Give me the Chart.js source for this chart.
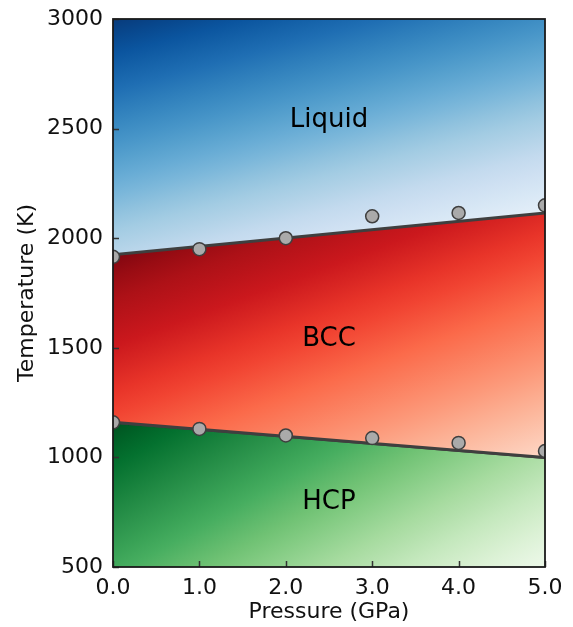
<!DOCTYPE html>
<html>
<head>
<meta charset="utf-8">
<script src="https://cdn.jsdelivr.net/npm/chart.js@4/dist/chart.umd.min.js"></script>
<style>
  html, body { margin: 0; padding: 0; background: #fff; }
  #wrap { width: 573px; height: 627px; }
</style>
</head>
<body>
<div id="wrap"><canvas id="phase"></canvas></div>
<script>
// measured points
const pressure = [0, 1, 2, 3, 4, 5];
const meltPoints = [1915, 1950, 2000, 2100, 2115, 2150];
const bccHcpPoints = [1160, 1130, 1100, 1088, 1066, 1029];

// fitted phase boundaries
const boundaryP = [0, 5];
const meltLine = [1925, 2115];
const bccHcpLine = [1160, 1000];

// axis ticks
const xTicks = [0, 1, 2, 3, 4, 5];
const yTicks = [500, 1000, 1500, 2000, 2500, 3000];

// region labels
const regionNames = ["Liquid", "BCC", "HCP"];
const regionP = [2.5, 2.5, 2.5];
const regionT = [2540, 1540, 795];

// matplotlib sequential maps (light -> dark)
const BLUES = ["#f7fbff", "#deebf7", "#c6dbef", "#9ecae1", "#6baed6", "#4292c6", "#2171b5", "#08519c", "#08306b"];
const REDS = ["#fff5f0", "#fee0d2", "#fcbba1", "#fc9272", "#fb6a4a", "#ef3b2c", "#cb181d", "#a50f15", "#67000d"];
const GREENS = ["#f7fcf5", "#e5f5e0", "#c7e9c0", "#a1d99b", "#74c476", "#41ab5d", "#238b45", "#006d2c", "#00441b"];

function hexToRgb(h) {
  return [parseInt(h.slice(1, 3), 16), parseInt(h.slice(3, 5), 16), parseInt(h.slice(5, 7), 16)];
}

function cmapColor(cmap, v) {
  v = Math.max(0, Math.min(1, v));
  const pos = v * (cmap.length - 1);
  const i = Math.min(cmap.length - 2, Math.floor(pos));
  const f = pos - i;
  const a = hexToRgb(cmap[i]), b = hexToRgb(cmap[i + 1]);
  const c = a.map((x, k) => Math.round(x + (b[k] - x) * f));
  return `rgb(${c[0]},${c[1]},${c[2]})`;
}

// gradient anchored at the left edge at temperature tTop, getting lighter to the right / down
function regionFill(cmap, v0, tTop, dropX, dropY) {
  return (context) => {
    const chart = context.chart;
    const area = chart.chartArea;
    if (!area || !chart.scales.y) return "rgba(0,0,0,0)";
    const y0 = chart.scales.y.getPixelForValue(tTop);
    const gx = dropX / area.width, gy = dropY / area.height;
    const n = gx * gx + gy * gy;
    const grad = chart.ctx.createLinearGradient(area.left, y0, area.left + gx / n, y0 + gy / n);
    for (let i = 0; i <= 20; i++) {
      const t = i / 20;
      grad.addColorStop(t, cmapColor(cmap, v0 - t));
    }
    return grad;
  };
}

const toXY = (xs, ys) => xs.map((x, i) => ({ x: x, y: ys[i] }));

// everything inside the axes is cut at the frame, markers included
const frameAndLabels = {
  id: "frameAndLabels",
  beforeDatasetsDraw(chart) {
    const { ctx, chartArea: a } = chart;
    ctx.save();
    ctx.beginPath();
    ctx.rect(a.left, a.top, a.right - a.left, a.bottom - a.top);
    ctx.clip();
  },
  afterDatasetsDraw(chart) {
    const { ctx, chartArea: a, scales } = chart;
    ctx.restore();
    ctx.save();
    // blank the thin strips beside the frame where half markers would stick out
    ctx.fillStyle = "#fff";
    ctx.fillRect(a.left - 9, a.top - 2, 9, a.bottom - a.top + 4);
    ctx.fillRect(a.right, a.top - 2, 10, a.bottom - a.top - 20);
    // region names
    ctx.fillStyle = "#000";
    ctx.font = "26px 'DejaVu Sans'";
    ctx.textAlign = "center";
    ctx.textBaseline = "middle";
    regionNames.forEach((name, i) => {
      ctx.fillText(name, scales.x.getPixelForValue(regionP[i]), scales.y.getPixelForValue(regionT[i]));
    });
    // inward ticks
    ctx.strokeStyle = "#333";
    ctx.lineWidth = 1.5;
    ctx.beginPath();
    yTicks.forEach(v => {
      const y = Math.round(scales.y.getPixelForValue(v)) + 0.5;
      ctx.moveTo(a.left, y); ctx.lineTo(a.left + 6, y);
    });
    xTicks.forEach(v => {
      const x = Math.round(scales.x.getPixelForValue(v)) + 0.5;
      ctx.moveTo(x, a.bottom); ctx.lineTo(x, a.bottom - 6);
    });
    ctx.stroke();
    // axes box
    ctx.strokeStyle = "#1a1a1a";
    ctx.lineWidth = 1.8;
    ctx.strokeRect(a.left, a.top, a.right - a.left, a.bottom - a.top);
    ctx.restore();
  }
};

const lineColor = "#3f3f3f";
const axisFont = { family: "'DejaVu Sans'", size: 22 };

new Chart(document.getElementById("phase"), {
  type: "line",
  data: {
    datasets: [
      {
        data: toXY(boundaryP, meltLine),
        borderColor: lineColor, borderWidth: 3, pointRadius: 0,
        fill: "end",
        backgroundColor: regionFill(BLUES, 0.96, 3000, 0.32, 1.55),
        order: 2
      },
      {
        data: toXY(boundaryP, bccHcpLine),
        borderColor: lineColor, borderWidth: 3, pointRadius: 0,
        fill: "-1",
        backgroundColor: regionFill(REDS, 0.95, meltLine[0], 0.35, 1.2),
        order: 2
      },
      {
        data: toXY(boundaryP, bccHcpLine),
        borderColor: lineColor, borderWidth: 3, pointRadius: 0,
        fill: "start",
        backgroundColor: regionFill(GREENS, 0.96, bccHcpLine[0], 0.55, 1.25),
        order: 3
      },
      {
        data: toXY(pressure, meltPoints),
        showLine: false, pointRadius: 6.5, pointBackgroundColor: "#aaaaaa",
        pointBorderColor: lineColor, pointBorderWidth: 1.5, clip: 0, order: 0
      },
      {
        data: toXY(pressure, bccHcpPoints),
        showLine: false, pointRadius: 6.5, pointBackgroundColor: "#aaaaaa",
        pointBorderColor: lineColor, pointBorderWidth: 1.5, clip: 0, order: 0
      }
    ]
  },
  plugins: [frameAndLabels],
  options: {
    responsive: true,
    maintainAspectRatio: false,
    animation: false,
    layout: { padding: { left: 0, right: 28, top: 19, bottom: 0 } },
    plugins: { legend: { display: false }, tooltip: { enabled: false } },
    scales: {
      x: {
        type: "linear", min: 0, max: 5,
        afterBuildTicks: (s) => { s.ticks = xTicks.map(v => ({ value: v })); },
        afterFit: (s) => { s.height = 60; },
        grid: { display: false }, border: { display: false },
        ticks: {
          color: "#111", padding: 0, font: axisFont,
          callback: (v) => Number(v).toFixed(1)
        },
        title: {
          display: true, text: "Pressure (GPa)", color: "#111",
          font: axisFont, padding: { top: 4, bottom: 2 }
        }
      },
      y: {
        type: "linear", min: 500, max: 3000,
        afterBuildTicks: (s) => { s.ticks = yTicks.map(v => ({ value: v })); },
        afterFit: (s) => { s.width = 113; },
        grid: { display: false }, border: { display: false },
        ticks: {
          color: "#111", padding: 2, font: axisFont,
          callback: (v) => String(v)
        },
        title: {
          display: true, text: "Temperature (K)", color: "#111",
          font: axisFont, padding: { top: 14, bottom: 4 }
        }
      }
    }
  }
});
</script>
</body>
</html>
